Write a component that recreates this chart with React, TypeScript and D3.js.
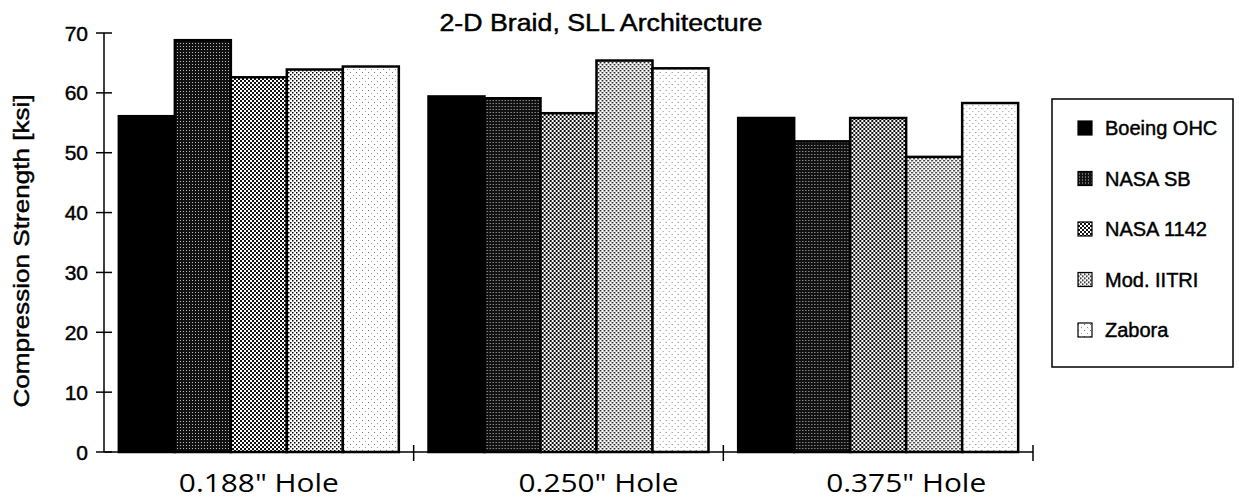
import React from "react";
import * as d3 from "d3";

const categories = ['0.188" Hole', '0.250" Hole', '0.375" Hole'];
const seriesNames = ["Boeing OHC", "NASA SB", "NASA 1142", "Mod. IITRI", "Zabora"];
const boeingOHC = [56.1, 59.4, 55.8];
const nasaSB = [68.8, 59.1, 51.9];
const nasa1142 = [62.6, 56.6, 55.8];
const modIITRI = [63.9, 65.4, 49.3];
const zabora = [64.4, 64.1, 58.3];
const yTicks = [0, 10, 20, 30, 40, 50, 60, 70];
const title = "2-D Braid, SLL Architecture";
const yLabel = "Compression Strength [ksi]";

const seriesValues = [boeingOHC, nasaSB, nasa1142, modIITRI, zabora];
const fills = ["#000", "url(#pNasaSB)", "url(#pNasa1142)", "url(#pMod)", "url(#pZabora)"];
const labelShift = [0, 30, 28];

const W = 1239;
const H = 500;
const left = 104;
const right = 1033;
const top = 33;
const bottom = 452;

export default function App() {
  const y = d3.scaleLinear().domain([0, 70]).range([bottom, top]);
  const x0 = d3.scaleBand<string>().domain(categories).range([left, right]).paddingInner(0).paddingOuter(0);
  const bw = x0.bandwidth();
  const x1 = d3.scaleBand<string>().domain(seriesNames).range([0, bw]).paddingInner(0).paddingOuter(0.265);
  const font = "'Liberation Sans', Arial, sans-serif";
  const heavy = { stroke: "#000", strokeWidth: 0.45 };

  return (
    <svg width={W} height={H} style={{ position: "absolute", left: 0, top: 0, background: "#fff" }}>
      <defs>
        <pattern id="pNasaSB" width="3" height="3" patternUnits="userSpaceOnUse">
          <rect width="3" height="3" fill="#111" />
          <rect x="1" y="1" width="1" height="1" fill="#bbb" />
        </pattern>
        <pattern id="pNasa1142" width="4" height="4" patternUnits="userSpaceOnUse">
          <rect width="4" height="4" fill="#fff" />
          <rect x="0" y="0" width="2" height="2" fill="#111" />
          <rect x="2" y="2" width="2" height="2" fill="#111" />
        </pattern>
        <pattern id="pMod" width="4" height="4" patternUnits="userSpaceOnUse">
          <rect width="4" height="4" fill="#fff" />
          <rect x="0" y="0" width="1.5" height="1.5" fill="#000" />
          <rect x="2" y="2" width="1.5" height="1.5" fill="#000" />
        </pattern>
        <pattern id="pZabora" width="6" height="6" patternUnits="userSpaceOnUse">
          <rect width="6" height="6" fill="#fff" />
          <rect x="0" y="0" width="1" height="1" fill="#777" />
          <rect x="3" y="3" width="1" height="1" fill="#999" />
        </pattern>
      </defs>

      <text x={601} y={31} textAnchor="middle" fontFamily={font} fontSize={23} textLength={323} lengthAdjust="spacingAndGlyphs" {...heavy}>
        {title}
      </text>

      {/* bars */}
      {categories.map((c, ci) => (
        <g key={c} transform={`translate(${x0(c)},0)`}>
          {seriesNames.map((s, si) => {
            const v = seriesValues[si][ci];
            return (
              <rect
                key={s}
                x={x1(s)}
                y={y(v)}
                width={x1.bandwidth()}
                height={y(0) - y(v)}
                fill={fills[si]}
                stroke="#000"
                strokeWidth={2.5}
              />
            );
          })}
        </g>
      ))}

      {/* y axis */}
      <line x1={left} x2={left} y1={top} y2={bottom} stroke="#000" strokeWidth={1.5} />
      {yTicks.map((t) => (
        <g key={t}>
          <line x1={left - 8} x2={left + 8} y1={y(t)} y2={y(t)} stroke="#000" strokeWidth={1.5} />
          <text x={88} y={y(t)} dy="0.36em" textAnchor="end" fontFamily={font} fontSize={21} {...heavy}>
            {t}
          </text>
        </g>
      ))}

      {/* x axis */}
      <line x1={left} x2={right} y1={bottom} y2={bottom} stroke="#000" strokeWidth={1.5} />
      {categories.map((c) => (
        <line key={c} x1={(x0(c) as number) + bw} x2={(x0(c) as number) + bw} y1={bottom - 7} y2={bottom + 9} stroke="#000" strokeWidth={1.5} />
      ))}
      {categories.map((c, i) => (
        <text
          key={c}
          x={(x0(c) as number) + bw / 2 + labelShift[i]}
          y={492}
          textAnchor="middle"
          fontFamily="'Open Sans', sans-serif"
          fontSize={25}
          textLength={160}
          lengthAdjust="spacingAndGlyphs"
        >
          {c}
        </text>
      ))}

      <text
        transform={`translate(29,251) rotate(-90)`}
        textAnchor="middle"
        fontFamily={font}
        fontSize={22}
        textLength={313}
        lengthAdjust="spacingAndGlyphs"
        {...heavy}
      >
        {yLabel}
      </text>

      {/* legend */}
      <rect x={1052} y={99} width={181} height={268} fill="#fff" stroke="#000" strokeWidth={1.5} />
      {seriesNames.map((s, i) => (
        <g key={s} transform={`translate(1078,${128 + i * 50.5})`}>
          <rect x={0} y={-7} width={14} height={14} fill={fills[i]} stroke="#000" strokeWidth={1.2} />
          <text x={27} y={0} dy="0.36em" fontFamily={font} fontSize={20} {...heavy}>
            {s}
          </text>
        </g>
      ))}
    </svg>
  );
}
